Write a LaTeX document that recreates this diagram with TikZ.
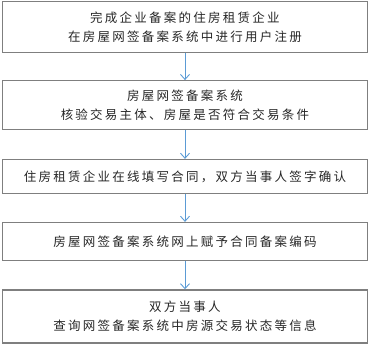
\documentclass[tikz,border=0pt]{standalone}
\usepackage{fontspec}
\newfontfamily\cjk[LetterSpace=18]{Noto Sans CJK SC}
\usetikzlibrary{arrows.meta}
\definecolor{flowblue}{HTML}{5B9BD5}
\definecolor{boxgray}{HTML}{7F7F7F}

\begin{document}
\begin{tikzpicture}[x=1pt, y=-1pt,
    stepbox/.style={draw=boxgray, line width=1.2pt, minimum width=365pt, inner sep=0pt,
                    align=center, text=black!85, font=\cjk\fontsize{12.5}{18.5}\selectfont},
    flow/.style={draw=flowblue, line width=0.9pt, -{Straight Barb[length=5pt,width=9pt]}}]
    \useasboundingbox (0,0) rectangle (373,348);
    % steps
    \node[stepbox, minimum height=51pt] (register) at (185,27) {完成企业备案的住房租赁企业\\在房屋网签备案系统中进行用户注册};
    \node[stepbox, minimum height=49pt] (verify) at (185,105.2) {房屋网签备案系统\\核验交易主体、房屋是否符合交易条件};
    \node[stepbox, minimum height=34pt] (sign) at (185,176.5) {住房租赁企业在线填写合同，双方当事人签字确认};
    \node[stepbox, minimum height=38pt] (code) at (185,241.5) {房屋网签备案系统网上赋予合同备案编码};
    \node[stepbox, minimum height=53pt] (query) at (185,316.4) {双方当事人\\查询网签备案系统中房源交易状态等信息};
    % arrows
    \draw[flow] (register) -- (verify);
    \draw[flow] (verify) -- (sign);
    \draw[flow] (sign) -- (code);
    \draw[flow] (code) -- (query);
\end{tikzpicture}
\end{document}
